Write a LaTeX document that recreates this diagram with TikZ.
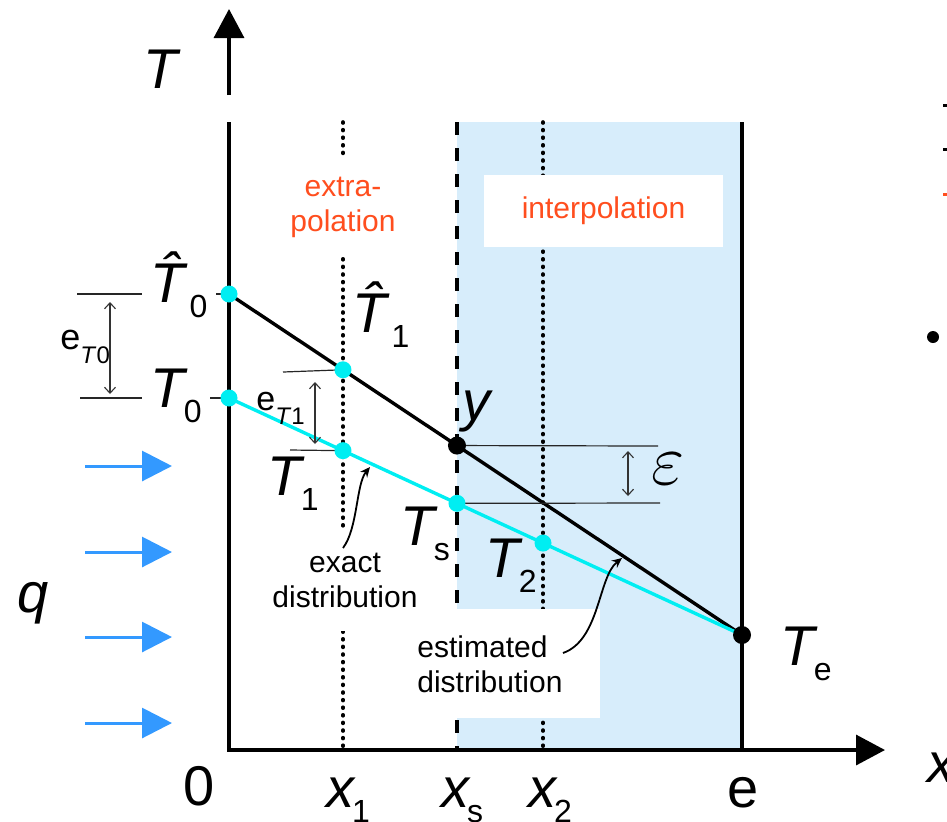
\documentclass[tikz,border=0pt]{standalone}
\usepackage{fontspec}
\setmainfont{Liberation Sans}
\usetikzlibrary{positioning, arrows.meta, calc}

\definecolor{interpblue}{RGB}{215,237,251}
\definecolor{exactcyan}{RGB}{0,238,242}
\definecolor{fluxblue}{RGB}{51,153,255}
\definecolor{regionred}{RGB}{255,78,30}

% symbol with a lowered subscript
\newcommand{\symsub}[2]{\textit{#1}\kern-2pt\raisebox{-7.5pt}{\fontsize{16}{16}\selectfont #2}}
\newcommand{\errsub}[1]{e\raisebox{-7pt}{\fontsize{12}{12}\selectfont\textit{T}#1}}

\begin{document}
\begin{tikzpicture}[
    x=0.5pt, y=-0.5pt,
    >=Stealth,
    axis/.style={line width=1.7pt, -{Triangle[length=14.5pt, width=15pt]}},
    wall/.style={line width=1.7pt},
    dotline/.style={line width=1.8pt, dash pattern=on 0.5pt off 3.3pt, line cap=round},
    dashline/.style={line width=1.7pt, dash pattern=on 6.5pt off 6.5pt},
    sym/.style={font=\fontsize{28}{30}\selectfont, inner sep=0pt, anchor=base west},
    note/.style={font=\fontsize{15}{17.5}\selectfont, align=center, fill=white},
    region/.style={font=\fontsize{15}{17.5}\selectfont, text=regionred, align=center, fill=white},
    cdot/.style={circle, fill=exactcyan, inner sep=0pt, minimum size=8.5pt},
    bdot/.style={circle, fill=black, inner sep=0pt, minimum size=9pt},
    guide/.style={line width=0.6pt, black!85},
    gap/.style={line width=0.55pt, black!80, {Straight Barb[length=3pt, width=5.5pt]}-{Straight Barb[length=3pt, width=5.5pt]}},
    pointer/.style={line width=0.9pt, -{Stealth[length=5pt, width=4.5pt]}},
    flux/.style={fluxblue, line width=1.5pt, -{Triangle[length=15pt, width=15pt]}}
]
\useasboundingbox (0,0) rectangle (947,821);

% -------------------------
% KEY POINTS
% -------------------------
\coordinate (O) at (229,750);
\coordinate (wallTop) at (229,122);
\coordinate (Tbase) at (229,95);
\coordinate (Ttip) at (229,9);
\coordinate (xtip) at (885,750);
\coordinate (hT0) at (229,294);
\coordinate (T0) at (229,398);
\coordinate (Te) at (742,635);
\coordinate (hT1) at ($(hT0)!0.2222!(Te)$);
\coordinate (T1) at ($(T0)!0.2222!(Te)$);
\coordinate (Y) at ($(hT0)!0.4444!(Te)$);
\coordinate (Ts) at ($(T0)!0.4444!(Te)$);
\coordinate (T2) at ($(T0)!0.6121!(Te)$);

% -------------------------
% REGIONS AND GRID LINES
% -------------------------
\fill[interpblue] (457,122) rectangle (742,750);
\draw[dotline] (343,122) -- (343,750);
\draw[dotline] (543,122) -- (543,750);
\draw[dashline] (457,122) -- (457,750);
\draw[wall] (742,122) -- (742,750);

\node[region, minimum height=49pt, inner xsep=3pt] (extra) at (343,207) {extra-\\polation};
\node[region, minimum width=119.5pt, minimum height=36pt] (inter) at (603.5,211) {interpolation};
\node[note, inner xsep=3pt, inner ysep=12pt] (exactTxt) at (345,580) {exact\\distribution};
\node[note, align=left, anchor=north west, text width=83pt, inner xsep=8.5pt, minimum height=54.5pt] (estTxt) at (400,609) {estimated\\distribution};

% -------------------------
% AXES
% -------------------------
\draw[axis] (Tbase) -- (Ttip);
\draw[axis] (wallTop) -- (O) -- (xtip);

% -------------------------
% DISTRIBUTIONS
% -------------------------
\draw[line width=1.7pt] (hT0) -- (Te);
\draw[exactcyan, line width=1.7pt] (T0) -- (Te);

% error marks
\coordinate (eA) at (77,294);
\coordinate (eB) at (80,398);
\coordinate (eC) at (283,372);
\coordinate (eD) at (290,450);
\coordinate (eE) at (658,446);
\coordinate (eF) at (660,503);
\draw[guide] (eA) -- (hT0);
\draw[guide] (eB) -- (T0);
\draw[guide] (eC) -- (hT1);
\draw[guide] (eD) -- (T1);
\draw[guide] (Y) -- (eE);
\draw[guide] (Ts) -- (eF);
\draw[gap] (110,302) -- (110,394);
\draw[gap] (315,382) -- (315,444);
\draw[gap] (628,451) -- (628,496);

% -------------------------
% LABELS
% -------------------------
\node[sym] (Tlab) at (143,88) {\textit{T}};
\node[sym] (xlab) at (927,782) {\textit{x}};
\node[sym, fill=white, inner xsep=4pt] (hT0lab) at (142,302) {\symsub{\^{T}}{0}};
\node[sym, fill=white, inner xsep=4pt] (T0lab) at (142,407) {\symsub{T}{0}};
\node[sym] (hT1lab) at (352,332) {\symsub{\^{T}}{1}};
\node[sym] (T1lab) at (267,495) {\symsub{T}{1}};
\node[sym] (Tslab) at (400,545) {\symsub{T}{s}};
\node[sym] (T2lab) at (485,577) {\symsub{T}{2}};
\node[sym] (Telab) at (780,665) {\symsub{T}{e}};
\node[sym] (ylab) at (462,420) {\textit{y}};
\node[sym] (qlab) at (17,612) {\textit{q}};
\node[sym, font=\fontsize{24}{26}\selectfont, scale=1.45] (eps) at (651,484) {$\varepsilon$};
\node[sym, font=\fontsize{18}{20}\selectfont] (eT0) at (60,349) {\errsub{0}};
\node[sym, font=\fontsize{17}{19}\selectfont] (eT1) at (256,410) {\errsub{1}};

\node[sym] (zero) at (183,805) {0};
\node[sym] (x1lab) at (326,807) {\symsub{x}{1}};
\node[sym] (xslab) at (441,807) {\symsub{x}{s}};
\node[sym] (x2lab) at (528,807) {\symsub{x}{2}};
\node[sym] (elab) at (727,807) {e};

% -------------------------
% POINTS
% -------------------------
\foreach \p in {hT0, T0, hT1, T1, Ts, T2}
    \node[cdot] at (\p) {};
\node[bdot] (Ydot) at (Y) {};
\node[bdot] (Tedot) at (Te) {};

% -------------------------
% POINTERS AND HEAT FLUX
% -------------------------
\coordinate (exactStart) at (343,548);
\coordinate (exactTip) at (370,467);
\coordinate (estStart) at (563,653);
\coordinate (estTip) at (622,558);
\draw[pointer] (exactStart) .. controls (358,528) and (356,484) .. (exactTip);
\draw[pointer] (estStart) .. controls (600,640) and (598,577) .. (estTip);

\foreach \yy in {466,552,637,723}
    \draw[flux] (85,\yy) -- (172,\yy);

% cut-off marks at the right edge
\fill (943,104) rectangle (947,106.5);
\fill (943,148) rectangle (947,150.5);
\fill[regionred] (943,193) rectangle (947,195.5);
\node[circle, fill, inner sep=0pt, minimum size=6pt] (bullet) at (933,337) {};

\end{tikzpicture}
\end{document}
